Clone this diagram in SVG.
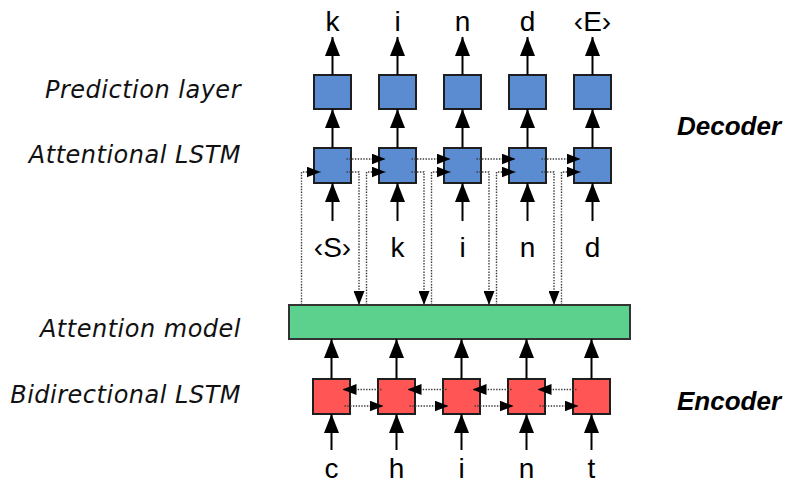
<svg xmlns="http://www.w3.org/2000/svg" width="789" height="485" viewBox="0 0 789 485">
<style>
.bg{fill:#ffffff}
.dec{fill:#5b8bd1;stroke:#1e1e1e;stroke-width:2}
.enc{fill:#ff5555;stroke:#1e1e1e;stroke-width:2}
.att{fill:#5cd18e;stroke:#333333;stroke-width:2}
.sol{fill:none;stroke:#000;stroke-width:2;marker-end:url(#ah)}
.dot{fill:none;stroke:#3a3a3a;stroke-width:1.4;stroke-dasharray:1.4 1.4;marker-end:url(#dh)}
.lab{font-family:"DejaVu Sans",sans-serif;font-style:italic;font-size:24px;letter-spacing:0.5px;text-anchor:end;fill:#111}
.side{font-family:"Liberation Sans",Arial,sans-serif;font-style:italic;font-weight:bold;font-size:26px;fill:#000}
.tok{font-family:"Liberation Sans",Arial,sans-serif;font-size:28px;text-anchor:middle;fill:#000}
</style>
<defs>
<marker id="ah" markerUnits="userSpaceOnUse" markerWidth="19" markerHeight="15" refX="19" refY="7.5" orient="auto">
<path d="M0,0 L19,7.5 L0,15 z" fill="#000"/>
</marker>
<marker id="dh" markerUnits="userSpaceOnUse" markerWidth="14" markerHeight="11" refX="14" refY="5.5" orient="auto">
<path d="M0,0 L14,5.5 L0,11 z" fill="#000"/>
</marker>
</defs>
<rect class="bg" x="0" y="0" width="789" height="485"/>

<g id="labels">
<text class="lab" x="241" y="98">Prediction layer</text>
<text class="lab" x="241" y="163">Attentional LSTM</text>
<text class="lab" x="241" y="337">Attention model</text>
<text class="lab" x="241" y="403">Bidirectional LSTM</text>
<text class="side" x="677" y="135">Decoder</text>
<text class="side" x="677" y="410">Encoder</text>
</g>

<g id="pred1"><rect class="dec" x="314" y="75" width="37" height="34"/></g>
<g id="pred2"><rect class="dec" x="379" y="75" width="37" height="34"/></g>
<g id="pred3"><rect class="dec" x="444" y="75" width="37" height="34"/></g>
<g id="pred4"><rect class="dec" x="509" y="75" width="37" height="34"/></g>
<g id="pred5"><rect class="dec" x="574" y="75" width="37" height="34"/></g>

<g id="dlstm1"><rect class="dec" x="314" y="148" width="37" height="35"/></g>
<g id="dlstm2"><rect class="dec" x="379" y="148" width="37" height="35"/></g>
<g id="dlstm3"><rect class="dec" x="444" y="148" width="37" height="35"/></g>
<g id="dlstm4"><rect class="dec" x="509" y="148" width="37" height="35"/></g>
<g id="dlstm5"><rect class="dec" x="574" y="148" width="37" height="35"/></g>

<g id="attention"><rect class="att" x="289" y="305" width="341" height="34"/></g>

<g id="elstm1"><rect class="enc" x="313" y="379" width="37" height="35"/></g>
<g id="elstm2"><rect class="enc" x="378" y="379" width="37" height="35"/></g>
<g id="elstm3"><rect class="enc" x="443" y="379" width="37" height="35"/></g>
<g id="elstm4"><rect class="enc" x="508" y="379" width="37" height="35"/></g>
<g id="elstm5"><rect class="enc" x="573" y="379" width="37" height="35"/></g>

<g id="out-tokens">
<text class="tok" x="332.5" y="31">k</text>
<text class="tok" x="397.5" y="31">i</text>
<text class="tok" x="462.5" y="31">n</text>
<text class="tok" x="527.5" y="31">d</text>
<text class="tok" x="592.5" y="31">‹E›</text>
</g>
<g id="dec-in-tokens">
<text class="tok" x="332.5" y="257">‹S›</text>
<text class="tok" x="397.5" y="257">k</text>
<text class="tok" x="462.5" y="257">i</text>
<text class="tok" x="527.5" y="257">n</text>
<text class="tok" x="592.5" y="257">d</text>
</g>
<g id="enc-in-tokens">
<text class="tok" x="331.5" y="478">c</text>
<text class="tok" x="396.5" y="478">h</text>
<text class="tok" x="461.5" y="478">i</text>
<text class="tok" x="526.5" y="478">n</text>
<text class="tok" x="591.5" y="478">t</text>
</g>

<g id="connectors">
<path class="sol" d="M332.5 75 V37"/>
<path class="sol" d="M397.5 75 V37"/>
<path class="sol" d="M462.5 75 V37"/>
<path class="sol" d="M527.5 75 V37"/>
<path class="sol" d="M592.5 75 V37"/>
<path class="sol" d="M332.5 148 V109"/>
<path class="sol" d="M397.5 148 V109"/>
<path class="sol" d="M462.5 148 V109"/>
<path class="sol" d="M527.5 148 V109"/>
<path class="sol" d="M592.5 148 V109"/>
<path class="sol" d="M332.5 221 V183"/>
<path class="sol" d="M397.5 221 V183"/>
<path class="sol" d="M462.5 221 V183"/>
<path class="sol" d="M527.5 221 V183"/>
<path class="sol" d="M592.5 221 V183"/>
<path class="sol" d="M331.5 379 V339"/>
<path class="sol" d="M396.5 379 V339"/>
<path class="sol" d="M461.5 379 V339"/>
<path class="sol" d="M526.5 379 V339"/>
<path class="sol" d="M591.5 379 V339"/>
<path class="sol" d="M331.5 450 V414"/>
<path class="sol" d="M396.5 450 V414"/>
<path class="sol" d="M461.5 450 V414"/>
<path class="sol" d="M526.5 450 V414"/>
<path class="sol" d="M591.5 450 V414"/>

<path class="dot" d="M346.5 159 H385.5"/>
<path class="dot" d="M411.5 159 H450.5"/>
<path class="dot" d="M476.5 159 H515.5"/>
<path class="dot" d="M541.5 159 H580.5"/>

<path class="dot" d="M301.5 305 V172 H320.5"/>
<path class="dot" d="M366.5 305 V172 H385.5"/>
<path class="dot" d="M431.5 305 V172 H450.5"/>
<path class="dot" d="M496.5 305 V172 H515.5"/>
<path class="dot" d="M561.5 305 V172 H580.5"/>

<path class="dot" d="M346.5 172 H359 V305"/>
<path class="dot" d="M411.5 172 H424 V305"/>
<path class="dot" d="M476.5 172 H489 V305"/>
<path class="dot" d="M541.5 172 H554 V305"/>

<path class="dot" d="M381.5 389.5 H342.5"/>
<path class="dot" d="M446.5 389.5 H407.5"/>
<path class="dot" d="M511.5 389.5 H472.5"/>
<path class="dot" d="M576.5 389.5 H537.5"/>

<path class="dot" d="M344.5 406 H383.5"/>
<path class="dot" d="M409.5 406 H448.5"/>
<path class="dot" d="M474.5 406 H513.5"/>
<path class="dot" d="M539.5 406 H578.5"/>
</g>
</svg>
